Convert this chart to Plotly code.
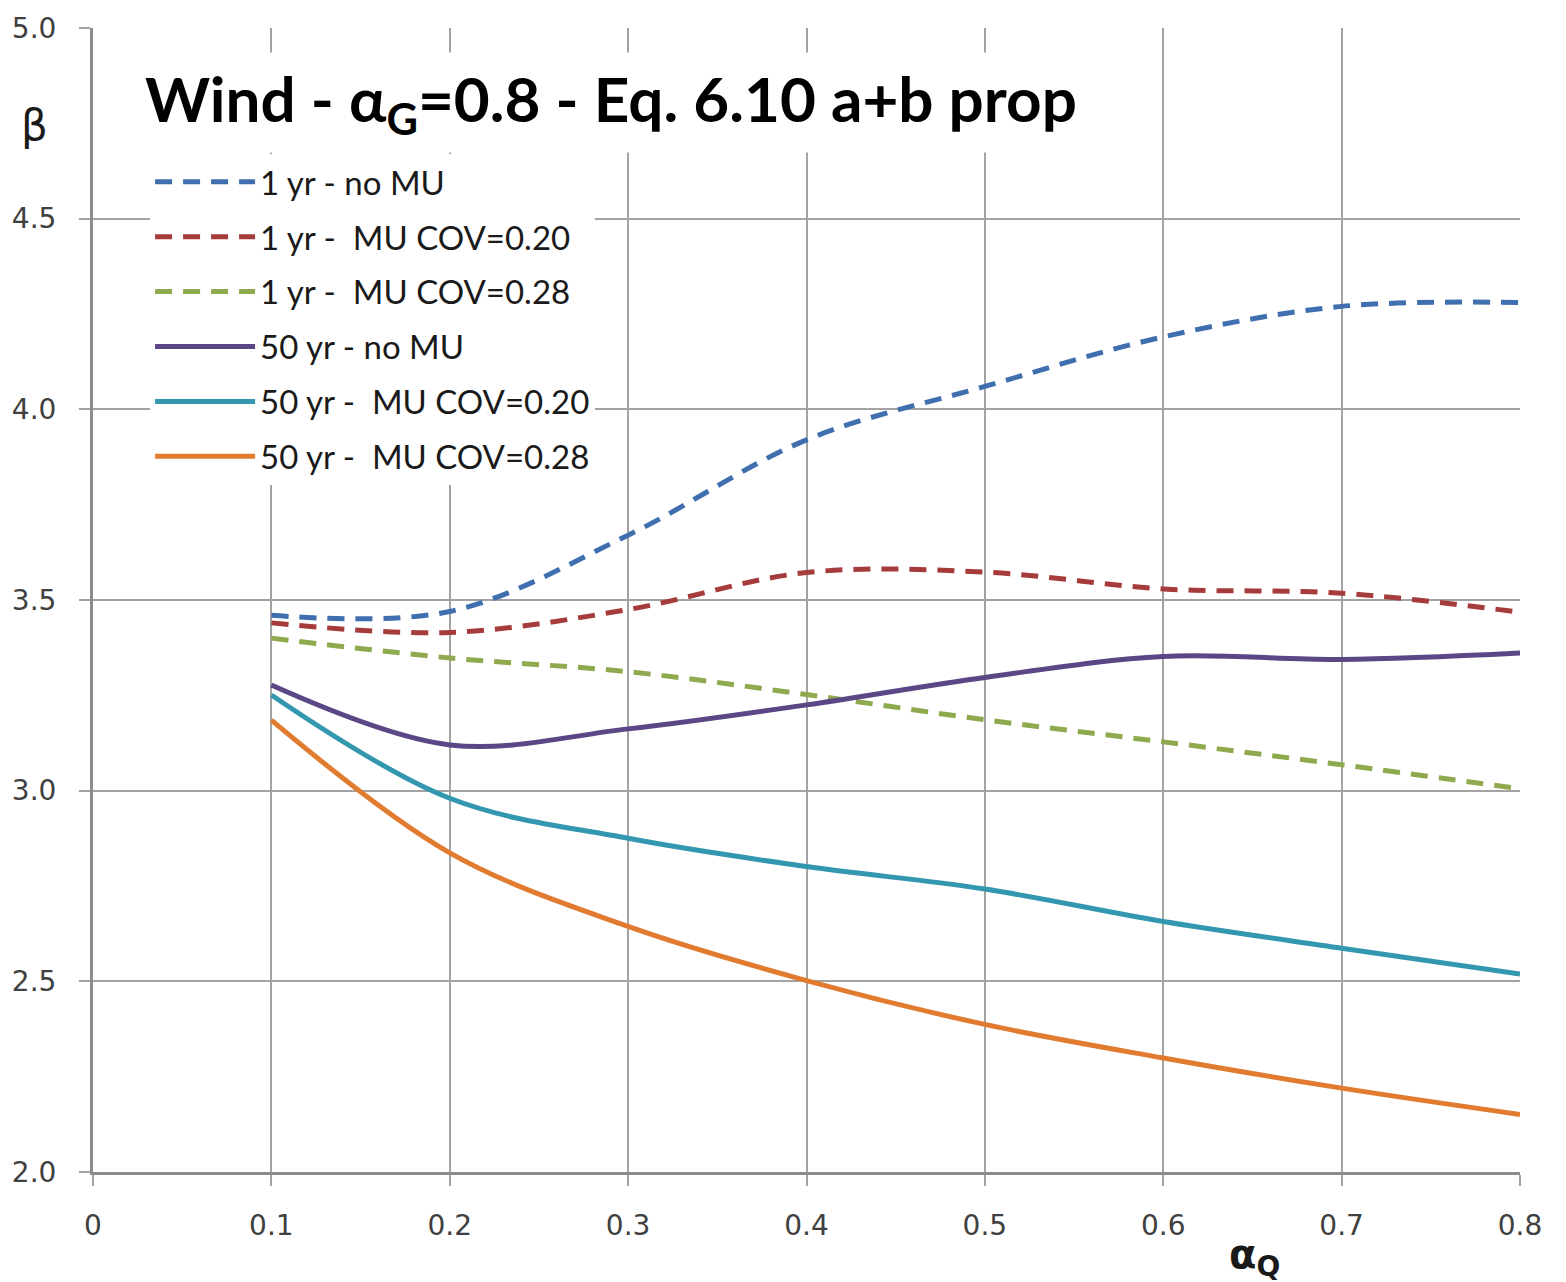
import plotly.graph_objects as go

# reliability index beta versus load ratio alpha_Q
alpha_q = [0.1, 0.2, 0.3, 0.4, 0.5, 0.6, 0.7, 0.8]

beta_1yr_no_mu = [3.46, 3.47, 3.67, 3.92, 4.06, 4.19, 4.27, 4.28]
beta_1yr_cov20 = [3.44, 3.415, 3.475, 3.572, 3.573, 3.529, 3.518, 3.468]
beta_1yr_cov28 = [3.40, 3.348, 3.312, 3.252, 3.186, 3.128, 3.068, 3.005]
beta_50yr_no_mu = [3.277, 3.12, 3.162, 3.225, 3.297, 3.352, 3.344, 3.361]
beta_50yr_cov20 = [3.251, 2.98, 2.875, 2.801, 2.742, 2.657, 2.587, 2.519]
beta_50yr_cov28 = [3.185, 2.837, 2.644, 2.502, 2.387, 2.299, 2.22, 2.151]

series_names = [
    "1 yr - no MU",
    "1 yr -  MU COV=0.20",
    "1 yr -  MU COV=0.28",
    "50 yr - no MU",
    "50 yr -  MU COV=0.20",
    "50 yr -  MU COV=0.28",
]

x_ticks = [0, 0.1, 0.2, 0.3, 0.4, 0.5, 0.6, 0.7, 0.8]
x_tick_labels = ["0", "0.1", "0.2", "0.3", "0.4", "0.5", "0.6", "0.7", "0.8"]
y_ticks = [2.0, 2.5, 3.0, 3.5, 4.0, 4.5, 5.0]
y_tick_labels = ["2.0", "2.5", "3.0", "3.5", "4.0", "4.5", "5.0"]

series_values = [beta_1yr_no_mu, beta_1yr_cov20, beta_1yr_cov28,
                 beta_50yr_no_mu, beta_50yr_cov20, beta_50yr_cov28]
colors = ["#3F6FAF", "#A63B3C", "#8FAA4E", "#5C4786", "#3497B0", "#E07B30"]
dashes = ["17px,11px", "17px,11px", "17px,11px", "solid", "solid", "solid"]

fig = go.Figure()
for i, (name, vals) in enumerate(zip(series_names, series_values)):
    fig.add_trace(go.Scatter(
        x=alpha_q, y=vals, name=name, mode="lines",
        line=dict(color=colors[i], width=5, dash=dashes[i], shape="spline", smoothing=1),
        legendgroup=f"g{i}",
    ))

grid_color = "#A3A3A3"
tick_font = dict(family="DejaVu Sans", size=28, color="#404040")

fig.update_layout(
    width=1566, height=1282,
    margin=dict(l=91, r=46, t=25, b=110),
    paper_bgcolor="white", plot_bgcolor="white",
    showlegend=True,
    legend=dict(
        x=0.04, y=0.89, xanchor="left", yanchor="top",
        bgcolor="white", borderwidth=0,
        font=dict(family="Lato", size=33, color="#1a1a1a"),
        itemwidth=100, tracegroupgap=9,
    ),
    xaxis=dict(
        range=[0, 0.8], tickvals=x_ticks, ticktext=x_tick_labels,
        showgrid=True, gridcolor=grid_color, gridwidth=1.5,
        zeroline=False, showline=True, linecolor="#8C8C8C", linewidth=3,
        ticks="outside", ticklen=11, tickcolor=grid_color, tickwidth=1.5,
        tickfont=tick_font, ticklabelstandoff=15,
    ),
    yaxis=dict(
        range=[2, 5], tickvals=y_ticks, ticktext=y_tick_labels,
        showgrid=True, gridcolor=grid_color, gridwidth=1.5,
        zeroline=False, showline=True, linecolor="#8C8C8C", linewidth=3,
        ticks="outside", ticklen=11, tickcolor=grid_color, tickwidth=1.5,
        tickfont=tick_font, ticklabelstandoff=17,
    ),
    annotations=[
        dict(
            text="<b>Wind - α<sub>G</sub>=0.8 - Eq. 6.10 a+b prop</b>",
            xref="paper", yref="paper", x=0.03, y=0.935,
            xanchor="left", yanchor="middle", showarrow=False,
            font=dict(family="Lato", size=62, color="black"),
            bgcolor="white", borderpad=8,
        ),
        dict(
            text="β", xref="paper", yref="paper",
            x=-0.041, y=0.915, xanchor="center", yanchor="middle", showarrow=False,
            font=dict(family="DejaVu Sans", size=42, color="#1a1a1a"),
        ),
        dict(
            text="<b>α<sub>Q</sub></b>", xref="paper", yref="paper",
            x=0.814, y=-0.074, xanchor="center", yanchor="middle", showarrow=False,
            font=dict(family="DejaVu Sans", size=40, color="#1a1a1a"),
        ),
    ],
)

fig.write_html("out.html")
